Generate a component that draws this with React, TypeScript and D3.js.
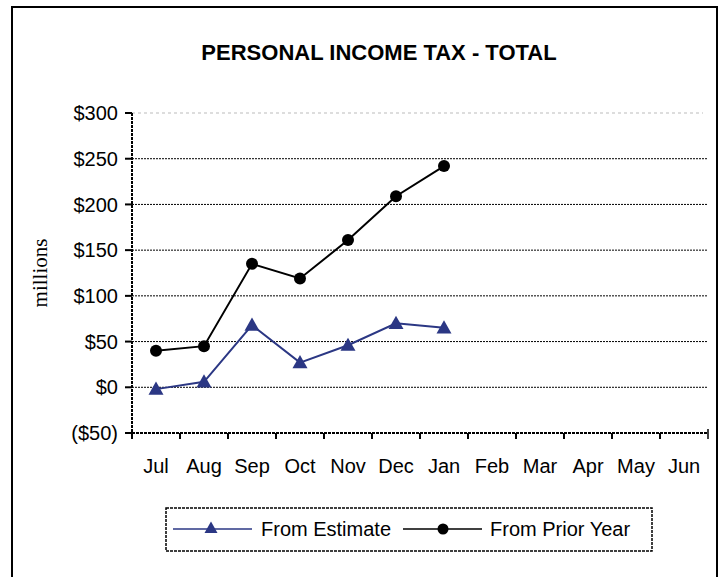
import React from "react";
import * as d3 from "d3";

const W = 723;
const H = 577;

const months = ["Jul", "Aug", "Sep", "Oct", "Nov", "Dec", "Jan", "Feb", "Mar", "Apr", "May", "Jun"];
const fromEstimate = [-2, 6, 68, 27, 46, 70, 65];
const fromPriorYear = [40, 45, 135, 119, 161, 209, 242];
const yTicks = [-50, 0, 50, 100, 150, 200, 250, 300];

const NAVY = "#2b3784";
const FONT = "Arial, 'Liberation Sans', sans-serif";

const fmt = (v: number) => (v < 0 ? `($${Math.abs(v)})` : `$${v}`);

function triangle(cx: number, cy: number, s: number) {
  return `M${cx},${cy - s}L${cx + s * 1.0},${cy + s * 0.75}L${cx - s * 1.0},${cy + s * 0.75}Z`;
}

export default function App() {
  const x = d3.scaleBand<string>().domain(months).range([132, 708]);
  const y = d3.scaleLinear().domain([-50, 300]).range([433, 113]);
  const cx = (i: number) => x(months[i])! + x.bandwidth() / 2;

  const line = d3.line<number>().x((_, i) => cx(i)).y((d) => y(d));

  return (
    <div style={{ position: "absolute", left: 0, top: 0 }}>
      <svg width={W} height={H} style={{ display: "block", fontFamily: FONT }}>
        <rect x={0} y={0} width={W} height={H} fill="#fff" />
        <rect x={12} y={7} width={705} height={H + 10} fill="none" stroke="#000" strokeWidth={2} />

        <text x={379} y={60} textAnchor="middle" fontSize={22} fontWeight="bold" fill="#000">
          PERSONAL INCOME TAX - TOTAL
        </text>

        {/* gridlines */}
        {yTicks.filter((t) => t > -50).map((t) => (
          <line
            key={t}
            x1={132}
            x2={t === 300 ? 703 : 708}
            y1={y(t)}
            y2={y(t)}
            stroke={t === 300 ? "#bbb" : "#000"}
            strokeWidth={1}
            strokeDasharray={t === 300 ? "3,3" : "2,1"}
          />
        ))}

        {/* y axis */}
        <line x1={132} x2={132} y1={y(300)} y2={y(-50)} stroke="#000" strokeWidth={2} strokeDasharray="3,1" />
        {yTicks.map((t) => (
          <g key={t}>
            <line x1={125} x2={132} y1={y(t)} y2={y(t)} stroke="#000" strokeWidth={2} />
            <text x={118} y={y(t)} dy="0.36em" textAnchor="end" fontSize={20} fill="#000">
              {fmt(t)}
            </text>
          </g>
        ))}
        <text
          transform={`translate(47,${273}) rotate(-90)`}
          textAnchor="middle"
          fontFamily="'Liberation Serif', 'Times New Roman', serif"
          fontSize={21}
          fill="#000"
        >
          millions
        </text>

        {/* x axis */}
        <line x1={132} x2={708} y1={y(-50)} y2={y(-50)} stroke="#000" strokeWidth={2} strokeDasharray="3,1" />
        {months.map((m) => (
          <line key={m} x1={x(m)!} x2={x(m)!} y1={y(-50)} y2={y(-50) + 6} stroke="#000" strokeWidth={2} />
        ))}
        <line x1={708} x2={708} y1={y(-50) - 4} y2={y(-50) + 6} stroke="#000" strokeWidth={1.5} />
        {months.map((m, i) => (
          <text key={m} x={cx(i)} y={473} textAnchor="middle" fontSize={20} fill="#000">
            {m}
          </text>
        ))}

        {/* series */}
        <path d={line(fromPriorYear) || ""} fill="none" stroke="#000" strokeWidth={2} />
        {fromPriorYear.map((v, i) => (
          <circle key={i} cx={cx(i)} cy={y(v)} r={6} fill="#000" />
        ))}
        <path d={line(fromEstimate) || ""} fill="none" stroke={NAVY} strokeWidth={2} />
        {fromEstimate.map((v, i) => (
          <path key={i} d={triangle(cx(i), y(v), 7.5)} fill={NAVY} />
        ))}

        {/* legend */}
        <rect x={166} y={508} width={486} height={43} fill="#fff" stroke="#000" strokeWidth={1.5} strokeDasharray="3,1" />
        <line x1={173} x2={252} y1={529} y2={529} stroke={NAVY} strokeWidth={1.5} />
        <path d={triangle(211, 528, 6.5)} fill={NAVY} />
        <text x={261} y={529} dy="0.36em" fontSize={20} fill="#000">From Estimate</text>
        <line x1={403} x2={482} y1={529} y2={529} stroke="#000" strokeWidth={1.5} />
        <circle cx={443} cy={529} r={5.5} fill="#000" />
        <text x={490} y={529} dy="0.36em" fontSize={20} fill="#000">From Prior Year</text>
      </svg>
    </div>
  );
}
